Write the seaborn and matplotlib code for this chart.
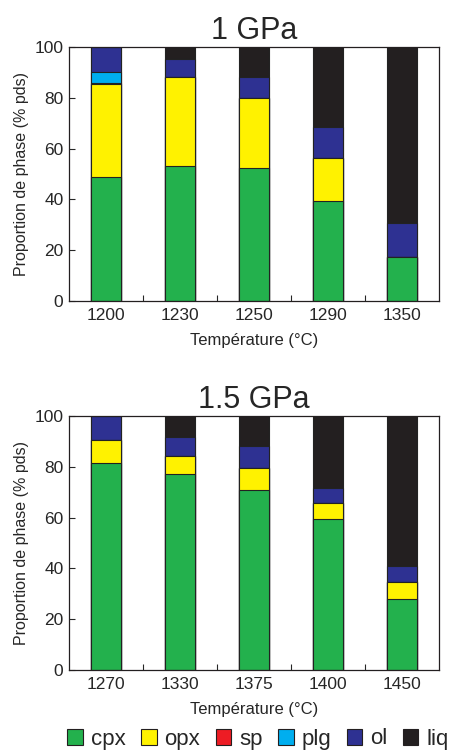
import numpy as np
import pandas as pd
import seaborn as sns
import matplotlib.pyplot as plt
from matplotlib.patches import Patch

# phases (bottom -> top)
phases = ['cpx', 'opx', 'sp', 'plg', 'ol', 'liq']
colors = ['#23b14d', '#fff200', '#ed1c24', '#00aeef', '#2e3192', '#231f20']

# 1 GPa
temps_1 = ['1200', '1230', '1250', '1290', '1350']
cpx_1 = [49.0, 53.2, 52.2, 39.2, 17.4]
opx_1 = [36.4, 34.8, 27.9, 17.2, 0.0]
sp_1 = [0.5, 0.0, 0.0, 0.0, 0.0]
plg_1 = [4.3, 0.0, 0.0, 0.0, 0.0]
ol_1 = [9.8, 7.3, 7.9, 12.3, 13.4]
liq_1 = [0.0, 4.7, 12.0, 31.3, 69.2]

# 1.5 GPa
temps_2 = ['1270', '1330', '1375', '1400', '1450']
cpx_2 = [81.3, 77.1, 71.0, 59.6, 27.8]
opx_2 = [9.1, 7.3, 8.7, 6.2, 6.9]
sp_2 = [0.0, 0.0, 0.0, 0.0, 0.0]
plg_2 = [0.0, 0.0, 0.0, 0.0, 0.0]
ol_2 = [9.6, 7.2, 8.5, 5.9, 6.3]
liq_2 = [0.0, 8.4, 11.8, 28.3, 59.0]

sns.set_style("ticks")
plt.rcParams['font.family'] = ['Liberation Sans', 'DejaVu Sans']

fig = plt.figure(figsize=(4.54, 7.51), dpi=100)
W, H = 454, 751
ax1 = fig.add_axes([69 / W, 1 - 301 / H, 370 / W, 254 / H])
ax2 = fig.add_axes([69 / W, 1 - 670 / H, 370 / W, 254 / H])


def stacked(ax, temps, layers, title):
    df = pd.DataFrame(dict(zip(phases, layers)), index=temps)
    cum = df.cumsum(axis=1)
    # draw tallest first so lower layers overlay
    for ph, col in reversed(list(zip(phases, colors))):
        d = pd.DataFrame({'T': temps, 'v': cum[ph].values})
        sns.barplot(data=d, x='T', y='v', order=temps, color=col, width=0.4,
                    edgecolor='#222222', linewidth=0.8, saturation=1, ax=ax)
    ax.set_xlim(-0.5, 4.5)
    ax.set_ylim(0, 100)
    ax.set_yticks([0, 20, 40, 60, 80, 100])
    ax.tick_params(axis='y', direction='in', length=4, labelsize=12.5, width=0.8, pad=4)
    ax.tick_params(axis='x', which='major', length=0, labelsize=12.5, pad=5)
    ax.set_xticks([0.5, 1.5, 2.5, 3.5], minor=True)
    ax.tick_params(axis='x', which='minor', direction='in', length=4, width=0.8)
    for s in ax.spines.values():
        s.set_visible(True)
        s.set_linewidth(0.9)
        s.set_color('#231f20')
    ax.set_xlabel('Température (°C)', fontsize=12, labelpad=7)
    ax.set_ylabel('Proportion de phase (% pds)', fontsize=11.5, labelpad=4)
    ax.set_title(title, fontsize=22, pad=6)


stacked(ax1, temps_1, [cpx_1, opx_1, sp_1, plg_1, ol_1, liq_1], '1 GPa')
stacked(ax2, temps_2, [cpx_2, opx_2, sp_2, plg_2, ol_2, liq_2], '1.5 GPa')

handles = [Patch(facecolor=c, edgecolor='#231f20', linewidth=0.8, label=p)
           for p, c in zip(phases, colors)]
fig.legend(handles=handles, loc='center', bbox_to_anchor=(258 / W, 1 - 739 / H),
           ncol=6, frameon=False, fontsize=16, handlelength=0.7, handleheight=0.7,
           handletextpad=0.35, columnspacing=0.7, borderpad=0.1)

fig.savefig('out.png', dpi=100)
